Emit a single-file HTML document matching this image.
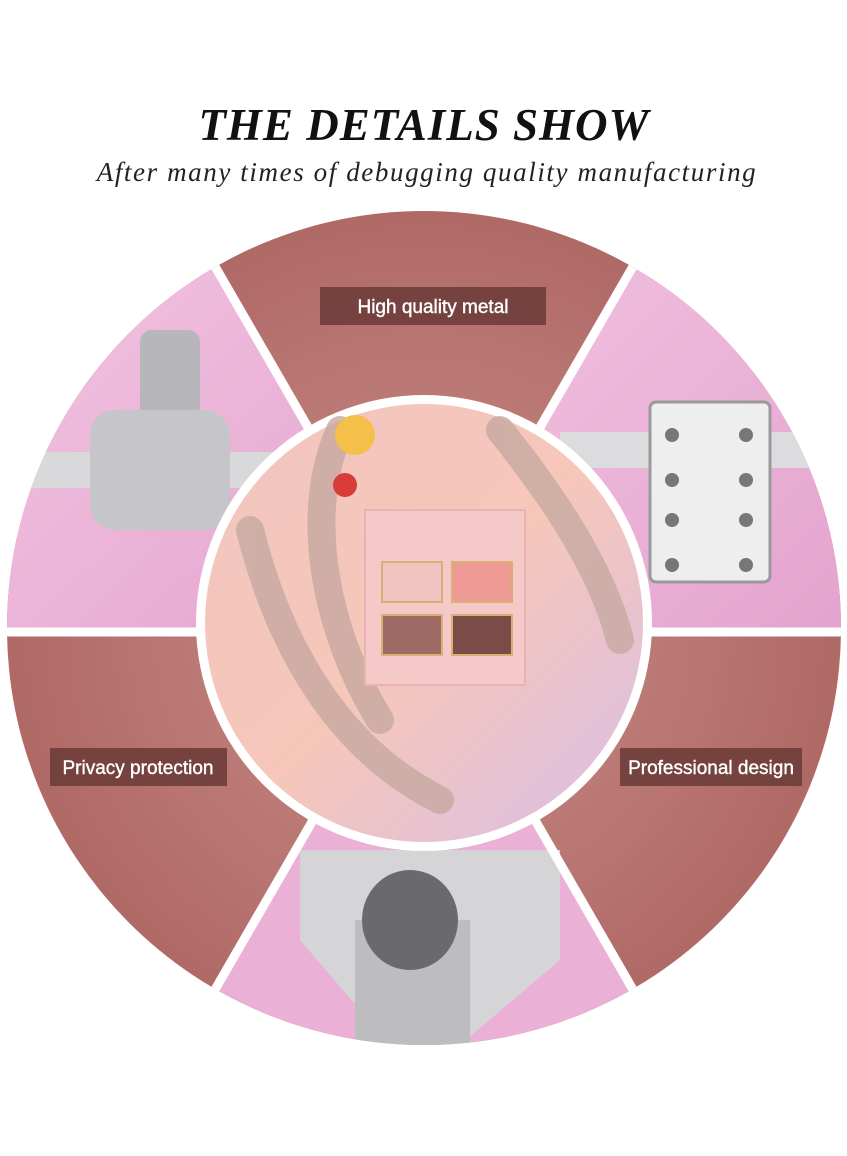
<!DOCTYPE html>
<html><head><meta charset="utf-8"><style>
html,body{margin:0;padding:0;background:#fff;width:847px;height:1156px;overflow:hidden}
</style></head><body>
<svg width="847" height="1156" viewBox="0 0 847 1156" xmlns="http://www.w3.org/2000/svg">
<defs>
<radialGradient id="rose" cx="50%" cy="50%" r="70%"><stop offset="0" stop-color="#c98d8a"/><stop offset="1" stop-color="#a55a56"/></radialGradient>
<linearGradient id="pink" x1="0" y1="0" x2="1" y2="1"><stop offset="0" stop-color="#f3c6e2"/><stop offset="1" stop-color="#e4a3cf"/></linearGradient>
<linearGradient id="inner" x1="0" y1="0" x2="1" y2="1"><stop offset="0" stop-color="#f1c5c0"/><stop offset="0.5" stop-color="#f6c7b9"/><stop offset="1" stop-color="#d8bde6"/></linearGradient>
<clipPath id="big"><circle cx="424" cy="628" r="417"/></clipPath>
</defs>
<text x="424" y="140" text-anchor="middle" font-family="Liberation Serif,serif" font-style="italic" font-weight="bold" font-size="45" fill="#111" letter-spacing="1">THE DETAILS SHOW</text>
<text x="427" y="181" text-anchor="middle" font-family="Liberation Serif,serif" font-style="italic" font-size="27" fill="#222" letter-spacing="1.6">After many times of debugging quality manufacturing</text>
<g clip-path="url(#big)">
<rect x="0" y="200" width="847" height="860" fill="url(#rose)"/>
<path d="M424 628 L183 211 L0 211 L0 628 Z" fill="url(#pink)"/>
<path d="M424 628 L665 211 L847 211 L847 628 Z" fill="url(#pink)"/>
<path d="M424 628 L183 1045 L665 1045 Z" fill="#eab0d6"/>
<rect x="0" y="452" width="290" height="36" fill="#d9d9db"/>
<rect x="560" y="432" width="290" height="36" fill="#dcdcde"/>
<path d="M300 850 L560 850 L560 960 L460 1045 L390 1045 L300 940 Z" fill="#d5d5d8"/>
<rect x="355" y="920" width="115" height="130" fill="#bdbdc0"/>
<ellipse cx="410" cy="920" rx="48" ry="50" fill="#6a6a6e"/>
<rect x="140" y="330" width="60" height="90" rx="12" fill="#b7b7bb"/>
<rect x="90" y="410" width="140" height="120" rx="25" fill="#c5c5ca"/>
<rect x="650" y="402" width="120" height="180" rx="6" fill="#eeeeef" stroke="#9a9a9e" stroke-width="3"/>
<g fill="#777">
<circle cx="672" cy="435" r="7"/><circle cx="746" cy="435" r="7"/><circle cx="672" cy="480" r="7"/><circle cx="746" cy="480" r="7"/>
<circle cx="672" cy="520" r="7"/><circle cx="746" cy="520" r="7"/><circle cx="672" cy="565" r="7"/><circle cx="746" cy="565" r="7"/></g>
<g stroke="#fff" stroke-width="9">
<line x1="0" y1="632" x2="847" y2="632"/>
<line x1="183" y1="211" x2="665" y2="1045"/>
<line x1="665" y1="211" x2="183" y2="1045"/>
</g>
</g>
<circle cx="424" cy="623" r="228" fill="#fff"/>
<circle cx="424" cy="623" r="219" fill="url(#inner)"/>
<g stroke="#c7a9a0" stroke-width="28" fill="none" stroke-linecap="round" opacity="0.8">
<path d="M340 430 C300 520 330 640 380 720"/>
<path d="M250 530 C280 650 340 750 440 800"/>
<path d="M500 430 C540 480 600 560 620 640"/>
</g>
<rect x="365" y="510" width="160" height="175" fill="#f5c9c8" stroke="#e9b3b3" stroke-width="2"/>
<rect x="382" y="562" width="60" height="40" fill="#f2c4c1" stroke="#d8b073" stroke-width="2"/>
<rect x="452" y="562" width="60" height="40" fill="#ee9993" stroke="#d8b073" stroke-width="2"/>
<rect x="382" y="615" width="60" height="40" fill="#9e6a63" stroke="#d8b073" stroke-width="2"/>
<rect x="452" y="615" width="60" height="40" fill="#7b4b47" stroke="#d8b073" stroke-width="2"/>
<circle cx="355" cy="435" r="20" fill="#f4c04a"/>
<circle cx="345" cy="485" r="12" fill="#d83d3a"/>
<g font-family="Liberation Sans,sans-serif" font-size="19" fill="#fff" font-weight="bold">
<rect x="320" y="287" width="226" height="38" fill="#6e3d3a" opacity="0.9"/>
<text x="433" y="313" text-anchor="middle" font-weight="normal" stroke="#fff" stroke-width="0.4">High quality metal</text>
<rect x="50" y="748" width="177" height="38" fill="#6e3d3a" opacity="0.9"/>
<text x="138" y="774" text-anchor="middle" font-weight="normal" stroke="#fff" stroke-width="0.4">Privacy protection</text>
<rect x="620" y="748" width="182" height="38" fill="#6e3d3a" opacity="0.9"/>
<text x="711" y="774" text-anchor="middle" font-weight="normal" stroke="#fff" stroke-width="0.4">Professional design</text>
</g>
</svg>
</body></html>
